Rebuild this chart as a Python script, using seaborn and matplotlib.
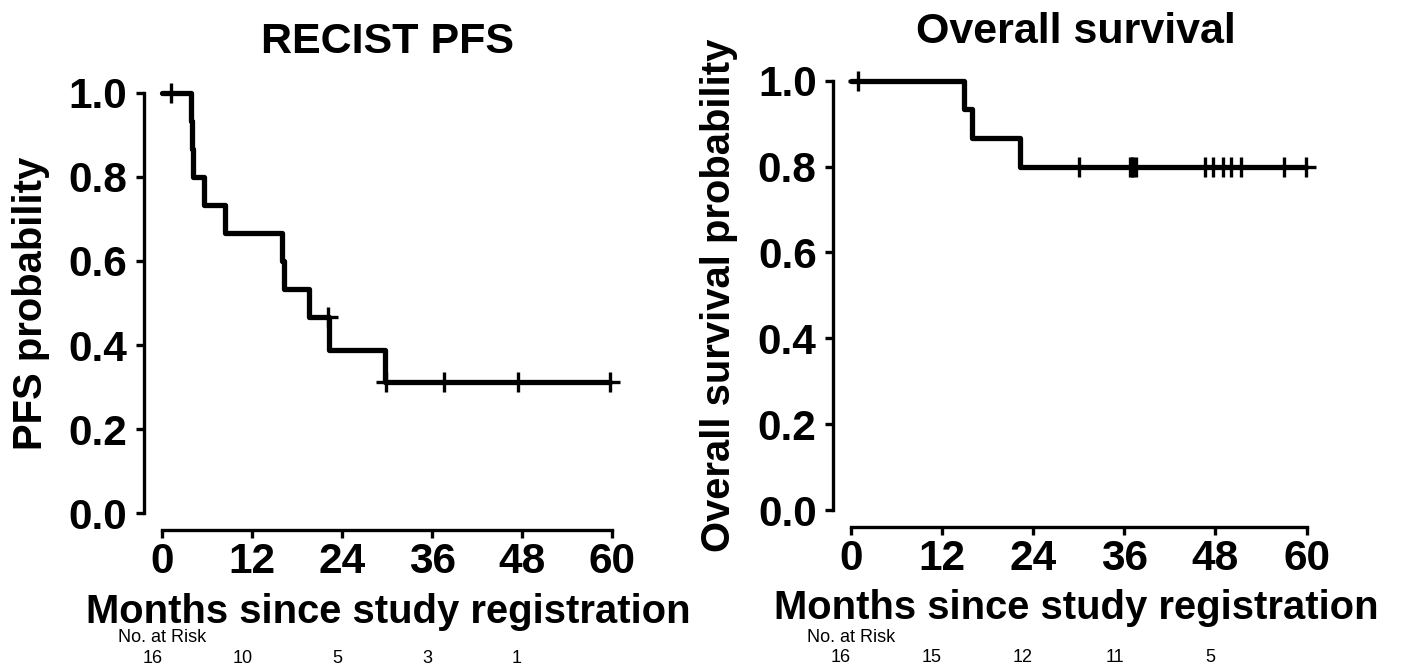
import matplotlib
matplotlib.use("Agg")
import matplotlib.pyplot as plt
import seaborn as sns
import pandas as pd

# Kaplan-Meier steps (months, survival probability)
pfs_times = [0, 3.76, 3.9, 4.03, 5.58, 8.34, 16.0, 16.2, 19.5, 22.3, 29.7, 59.7]
pfs_surv = [1.0, 0.933, 0.867, 0.8, 0.733, 0.667, 0.6, 0.533, 0.467, 0.389, 0.311, 0.311]
pfs_cens_t = [1.09, 22.1, 29.9, 37.6, 47.5, 59.7]
pfs_cens_s = [1.0, 0.467, 0.311, 0.311, 0.311, 0.311]
pfs_risk = [16, 10, 5, 3, 1]

os_times = [0, 14.9, 15.9, 22.3, 59.9]
os_surv = [1.0, 0.933, 0.867, 0.8, 0.8]
os_cens_t = [1.0, 30.1, 36.8, 37.0, 37.2, 37.6, 46.6, 47.7, 49.0, 50.0, 51.4, 57.0, 59.9]
os_cens_s = [1.0, 0.8, 0.8, 0.8, 0.8, 0.8, 0.8, 0.8, 0.8, 0.8, 0.8, 0.8, 0.8]
os_risk = [16, 15, 12, 11, 5]

risk_times = [0, 12, 24, 36, 48]
x_ticks = [0, 12, 24, 36, 48, 60]
y_ticks = [0.0, 0.2, 0.4, 0.6, 0.8, 1.0]

sns.set_style("white")
plt.rcParams['font.family'] = ['Liberation Sans', 'DejaVu Sans']
plt.rcParams['text.color'] = 'black'
plt.rcParams['axes.labelcolor'] = 'black'
plt.rcParams['xtick.color'] = 'black'
plt.rcParams['ytick.color'] = 'black'

fig = plt.figure(figsize=(14.02, 6.67), dpi=100)


def km_panel(rect, xlim, times, surv, cens_t, cens_s, risk, title, ylabel,
             title_y, xlab_y, ylab_x, risk_y, num_y):
    ax = fig.add_axes(rect)
    steps = pd.DataFrame({'t': times, 's': surv})
    sns.lineplot(data=steps, x='t', y='s', drawstyle='steps-post', color='black',
                 lw=3.8, ax=ax, solid_capstyle='round', solid_joinstyle='round')
    cens = pd.DataFrame({'t': cens_t, 's': cens_s})
    sns.scatterplot(data=cens, x='t', y='s', marker='+', s=190, color='black',
                    linewidth=2.4, ax=ax, zorder=3, clip_on=False)

    ax.set_xlim(*xlim)
    ax.set_ylim(-0.04, 1.04)
    ax.set_xticks(x_ticks)
    ax.set_yticks(y_ticks)
    ax.set_xticklabels([str(t) for t in x_ticks])
    ax.set_yticklabels([f"{v:.1f}" for v in y_ticks])
    ax.tick_params(axis='both', labelsize=30.5, width=2.4, length=5.5,
                   color='black', labelcolor='black', direction='out',
                   left=True, bottom=True)
    ax.tick_params(axis='y', pad=6.5)
    ax.tick_params(axis='x', pad=3)
    for lab in ax.get_xticklabels() + ax.get_yticklabels():
        lab.set_fontweight('bold')
    sns.despine(ax=ax, trim=True)
    for side in ['left', 'bottom']:
        ax.spines[side].set_linewidth(2.4)
        ax.spines[side].set_color('black')
    ax.set_xlabel('')
    ax.set_ylabel('')

    ax.text(0.5, title_y, title, transform=ax.transAxes, ha='center',
            va='baseline', fontsize=31, fontweight='bold', color='black')
    ax.text(0.5, xlab_y, 'Months since study registration', transform=ax.transAxes,
            ha='center', va='baseline', fontsize=28.8, fontweight='bold',
            color='black')
    ax.text(ylab_x, 0.5, ylabel, transform=ax.transAxes, rotation=90,
            rotation_mode='anchor', ha='center', va='baseline',
            fontsize=28.8, fontweight='bold', color='black')

    # number at risk table
    tr = ax.get_xaxis_transform()
    ax.text(0, risk_y, 'No. at Risk', transform=tr, ha='center', va='baseline',
            fontsize=13, color='black', clip_on=False)
    for t, n in zip(risk_times, risk):
        ax.text(t, num_y, str(n), transform=tr, ha='right', va='baseline',
                fontsize=13, color='black', clip_on=False)
    return ax


km_panel([0.10271, 0.20525, 0.34807, 0.68096], (-2.47, 62.7),
         pfs_times, pfs_surv, pfs_cens_t, pfs_cens_s, pfs_risk,
         'RECIST PFS', 'PFS probability',
         1.0498, -0.2052, -0.2096, -0.2457, -0.2935)

km_panel([0.59437, 0.2096, 0.34622, 0.6952], (-2.29, 61.6),
         os_times, os_surv, os_cens_t, os_cens_s, os_risk,
         'Overall survival', 'Overall survival probability',
         1.0449, -0.198, -0.2128, -0.2469, -0.290)

plt.savefig('out.png', dpi=100)
plt.close()
